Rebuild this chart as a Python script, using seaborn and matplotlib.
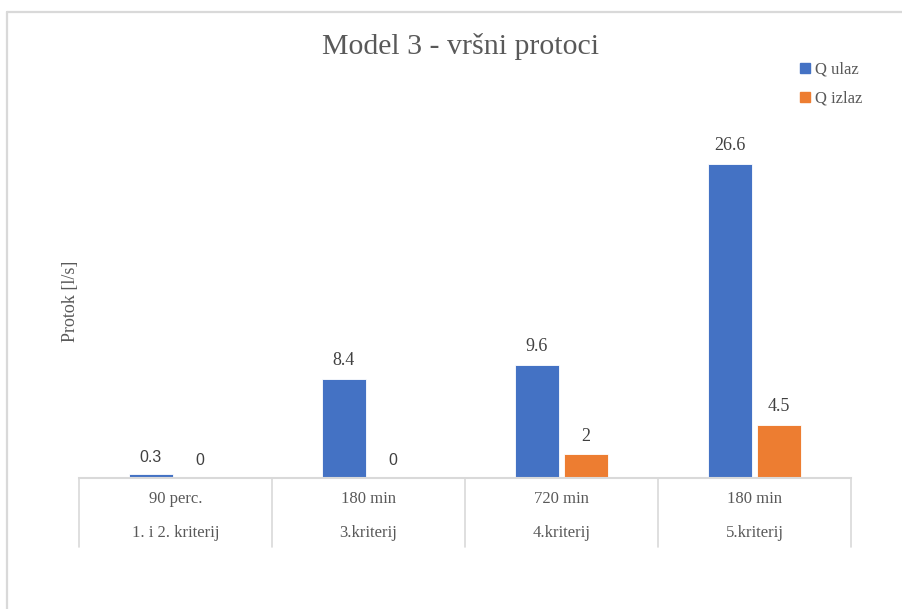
import pandas as pd
import seaborn as sns
import matplotlib
matplotlib.use("Agg")
from matplotlib import pyplot as plt
from matplotlib.lines import Line2D

# chart data
periods = ["90 perc.", "180 min", "720 min", "180 min"]
criteria = ["1. i 2. kriterij", "3.kriterij", "4.kriterij", "5.kriterij"]
q_ulaz = [0.3, 8.4, 9.6, 26.6]
q_izlaz = [0, 0, 2, 4.5]
series = ["Q ulaz", "Q izlaz"]
colors = ["#4472C4", "#ED7D31"]

sns.set_theme(style="white")
plt.rcParams["font.family"] = ["Liberation Serif", "DejaVu Serif"]

keys = [f"{p}|{c}" for p, c in zip(periods, criteria)]
df = pd.DataFrame({
    "kat": keys * 2,
    "serija": [series[0]] * 4 + [series[1]] * 4,
    "protok": q_ulaz + q_izlaz,
})

fig = plt.figure(figsize=(9.02, 6.09), dpi=100)
fig.patch.set_facecolor("white")
ax = fig.add_axes([79 / 902, 1 - 478 / 609, (851 - 79) / 902, (478 - 124) / 609])

sns.barplot(data=df, x="kat", y="protok", hue="serija", order=keys,
            hue_order=series, palette=dict(zip(series, colors)), saturation=1,
            width=0.51, gap=0.12, edgecolor="white", linewidth=0.6,
            legend=False, ax=ax)

ax.set_xlim(-0.5, 3.5)
ax.set_ylim(0, 30)
ax.set_yticks([])
ax.set_xticks([])
ax.set_xlabel("")
ax.set_ylabel("Protok [l/s]", fontsize=13, color="#595959", labelpad=0)
for s in ["top", "right", "left"]:
    ax.spines[s].set_visible(False)
ax.spines["bottom"].set_color("#D9D9D9")
ax.spines["bottom"].set_linewidth(1.5)

# data labels
for cont in ax.containers:
    texts = ax.bar_label(cont, fmt="%g", padding=7, fontsize=13, color="#404040")
    for t in texts:
        if t.get_text() in ("0", "0.3"):
            t.set_family(["Liberation Sans", "DejaVu Sans"])
            t.set_fontsize(11.5)

# two-level category axis drawn like a table
tr = ax.get_xaxis_transform()
for i, (p, c) in enumerate(zip(periods, criteria)):
    ax.text(i, -0.058, p, transform=tr, ha="center", va="center",
            fontsize=12, color="#595959")
    ax.text(i, -0.156, c, transform=tr, ha="center", va="center",
            fontsize=12, color="#595959")
for xb in [-0.5, 0.5, 1.5, 2.5, 3.5]:
    ax.plot([xb, xb], [0, -0.195], transform=tr, color="#D9D9D9",
            lw=1.2, clip_on=False)

fig.suptitle("Model 3 - vršni protoci", x=0.51, y=1 - 46 / 609, va="center",
             fontsize=21.5, color="#595959")

handles = [Line2D([], [], marker="s", ls="", color=c, markersize=7) for c in colors]
fig.legend(handles, series, loc="upper left", bbox_to_anchor=(798 / 902, 1 - 62 / 609),
           frameon=False, fontsize=12, labelcolor="#595959", handlelength=0.8,
           handletextpad=0.2, labelspacing=0.75, borderpad=0, borderaxespad=0)

# outer chart border
fig.add_artist(Line2D([7 / 902, 7 / 902], [0, 1 - 12 / 609], color="#D9D9D9", lw=1.6))
fig.add_artist(Line2D([7 / 902, 1], [1 - 12 / 609, 1 - 12 / 609], color="#D9D9D9", lw=1.6))

fig.savefig("out.png", dpi=100)
